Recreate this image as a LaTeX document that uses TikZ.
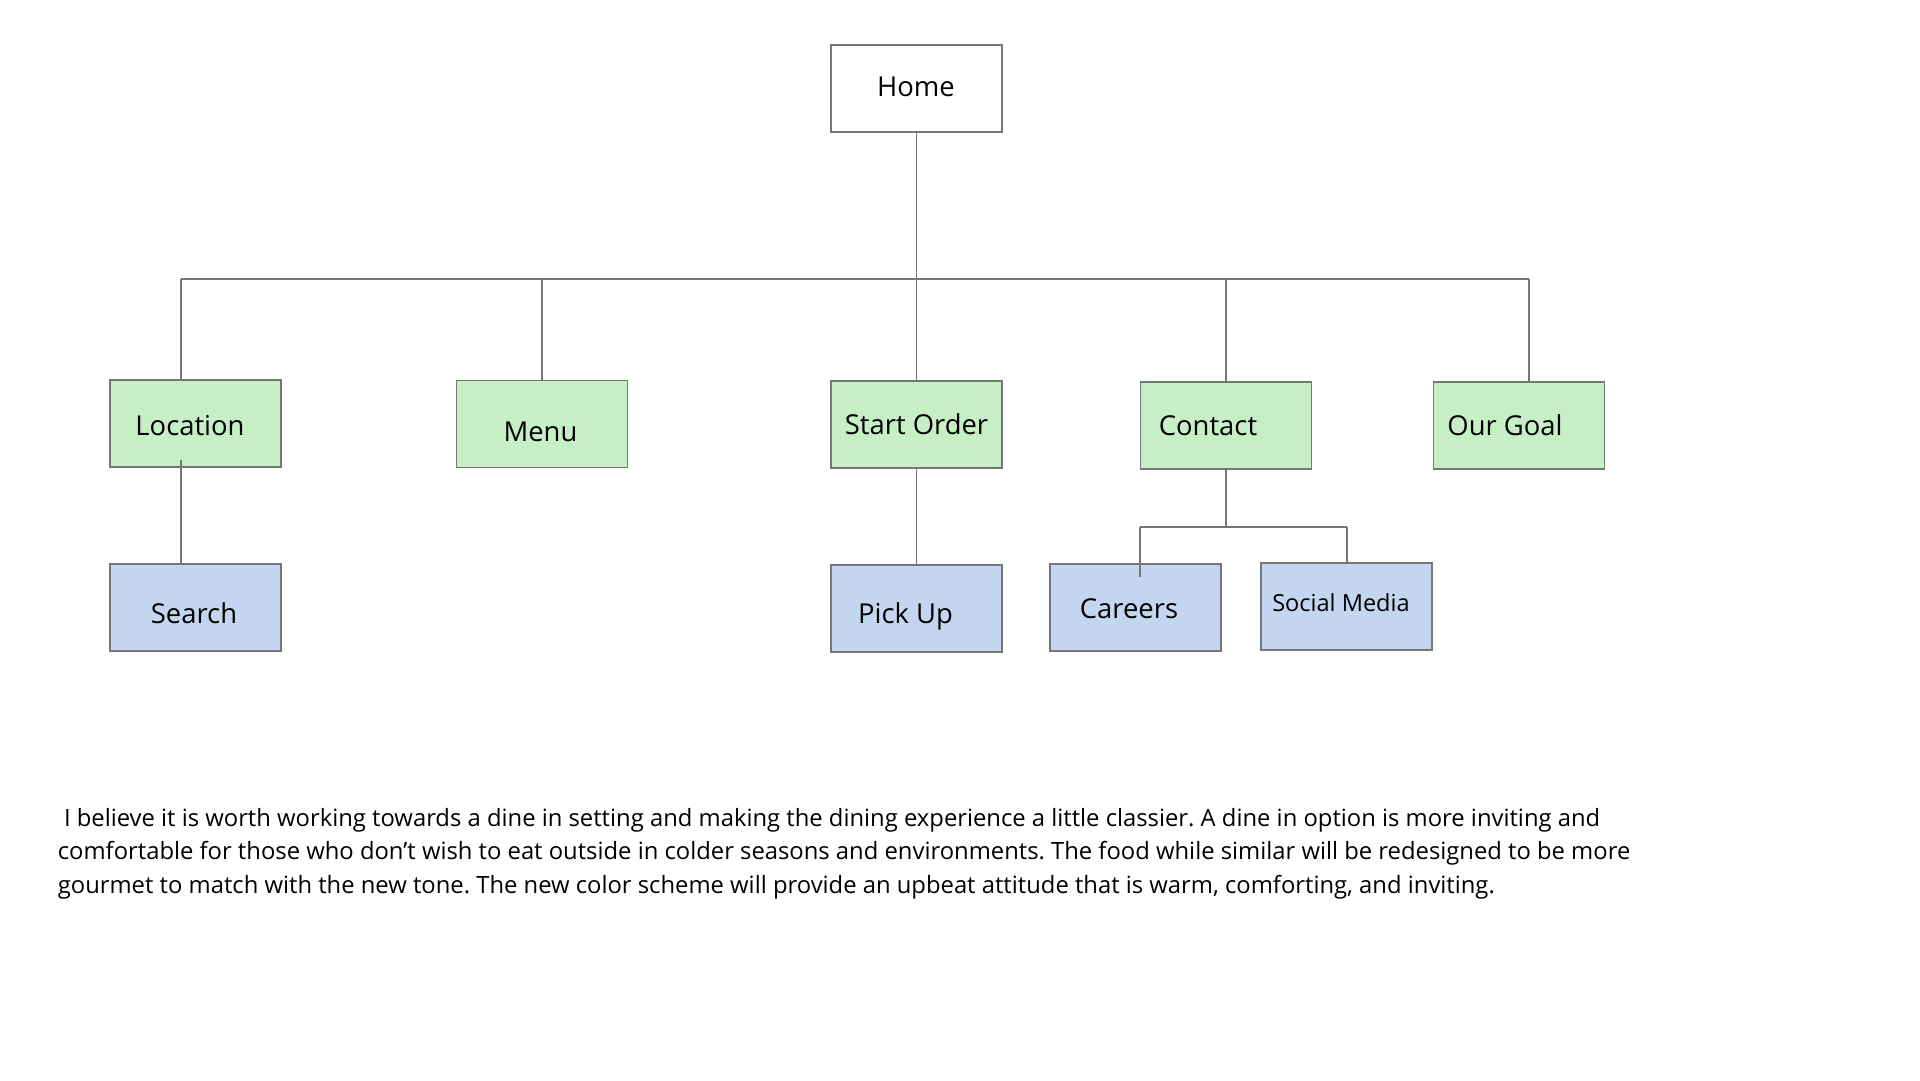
\documentclass[tikz,border=0pt]{standalone}
\usepackage{fontspec}
\setmainfont{Open Sans}
\usepackage{tikz}

\definecolor{linegray}{HTML}{767676}
\definecolor{pagegreen}{RGB}{198,239,198}
\definecolor{pageblue}{RGB}{196,214,239}

\newcommand{\boxfont}{\fontsize{15.6}{18}\selectfont}
\newcommand{\smallboxfont}{\fontsize{13.4}{16}\selectfont}
\newcommand{\notefont}{\fontsize{13.55}{18.8}\selectfont\frenchspacing}

\tikzset{
    pagebox/.style={draw=linegray,line width=0.7pt,minimum width=3.42cm,minimum height=1.74cm,inner sep=0pt},
    topbox/.style={pagebox,fill=white},
    mainbox/.style={pagebox,fill=pagegreen},
    subbox/.style={pagebox,fill=pageblue},
    boxtext/.style={font=\boxfont,text height=14pt,text depth=1.8pt,inner sep=0pt},
    link/.style={draw=linegray,line width=0.6pt}
}

\begin{document}
\begin{tikzpicture}[x=0.02cm,y=-0.02cm]
    \useasboundingbox (0,0) rectangle (1920,1080);
    % pages
    \node[topbox,label={[boxtext,xshift=-0.01cm,yshift=0.05cm]center:Home}] (home) at (916.5,88.5) {};
    \node[mainbox,label={[boxtext,xshift=-0.11cm,yshift=-0.03cm]center:Location}] (loc) at (195.5,423.5) {};
    \node[mainbox,label={[boxtext,xshift=-0.03cm,yshift=-0.14cm]center:Menu}] (menu) at (542,424) {};
    \node[mainbox,label={[boxtext,yshift=0.02cm]center:Start Order}] (start) at (916.5,424.5) {};
    \node[mainbox,label={[boxtext,xshift=-0.36cm,yshift=0.02cm]center:Contact}] (contact) at (1226,425.5) {};
    \node[mainbox,label={[boxtext,xshift=-0.28cm,yshift=0.02cm]center:Our Goal}] (goal) at (1519,425.5) {};
    \node[subbox,label={[boxtext,xshift=-0.03cm,yshift=-0.1cm]center:Search}] (search) at (195.5,607.5) {};
    \node[subbox,label={[boxtext,xshift=-0.22cm,yshift=-0.08cm]center:Pick Up}] (pick) at (916.5,608.5) {};
    \node[subbox,label={[boxtext,xshift=-0.13cm]center:Careers}] (careers) at (1135.5,607.5) {};
    \node[subbox,label={[boxtext,font=\smallboxfont,xshift=-0.11cm,yshift=0.11cm]center:Social Media}] (social) at (1346.5,606.5) {};
    % connectors
    \coordinate (busL) at (181,279);
    \coordinate (busR) at (1529,279);
    \draw[link] (home.south) -- (home.south |- busL);
    \draw[link] (busL) -- (busR);
    \draw[link] (busL) -- (busL |- loc.north);
    \draw[link] (menu.north |- busL) -- (menu.north);
    \draw[link] (start.north |- busL) -- (start.north);
    \draw[link] (contact.north |- busL) -- (contact.north);
    \draw[link] (busR) -- (busR |- goal.north);
    \draw[link] (busL |- 0,460) -- (busL |- search.north);
    \draw[link] (start.south) -- (pick.north);
    \coordinate (cbusL) at (1140,527);
    \coordinate (cbusR) at (1347,527);
    \draw[link] (contact.south) -- (contact.south |- cbusL);
    \draw[link] (cbusL) -- (cbusR);
    \draw[link] (cbusL) -- ++(0,50);
    \draw[link] (cbusR) -- (cbusR |- social.north);
    % note
    \node[anchor=north west,align=left,inner sep=0pt,font=\notefont] (note) at (57.5,808.5)
        {\ I believe it is worth working towards a dine in setting and making the dining experience a little classier. A dine in option is more inviting and\\
        comfortable for those who don't wish to eat outside in colder seasons and environments. The food while similar will be redesigned to be more\\
        gourmet to match with the new tone. The new color scheme will provide an upbeat attitude that is warm, comforting, and inviting.};
\end{tikzpicture}
\end{document}
